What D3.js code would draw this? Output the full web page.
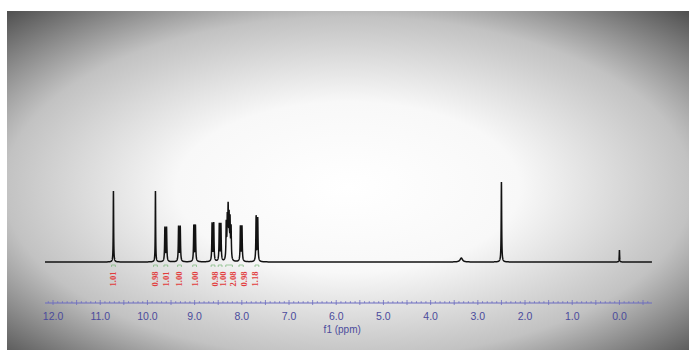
<!DOCTYPE html>
<html>
<head>
<meta charset="utf-8">
<script src="https://cdn.jsdelivr.net/npm/d3@7"></script>
<style>
  body { margin: 0; background: #fff; }
  svg { display: block; }
</style>
</head>
<body>
<svg id="chart" width="689" height="350"></svg>
<script>
// spectrum lines: chemical shift (ppm), height, half width (ppm)
const linePpm    = [10.720, 9.830, 9.630, 9.595, 9.340, 9.305, 9.017, 8.983, 8.630, 8.595, 8.477, 8.443,
                    8.330, 8.308, 8.290, 8.270, 8.250, 8.228, 8.030, 7.997, 7.697, 7.663, 3.350, 2.500, 0.000];
const lineHeight = [71, 71, 34, 34, 35, 35, 36, 36, 38, 38, 37, 37,
                    36, 38, 48, 40, 38, 32, 35, 35, 45, 43, 4, 80, 12];
const lineWidth  = [0.005, 0.005, 0.007, 0.007, 0.007, 0.007, 0.007, 0.007, 0.007, 0.007, 0.007, 0.007,
                    0.007, 0.007, 0.007, 0.007, 0.007, 0.007, 0.007, 0.007, 0.007, 0.007, 0.03, 0.006, 0.005];

// integrals: label anchor (ppm), region, value
const integralPpm  = [10.72, 9.83, 9.61, 9.34, 9.00, 8.57, 8.40, 8.19, 7.96, 7.72];
const integralFrom = [10.76, 9.87, 9.65, 9.36, 9.04, 8.65, 8.50, 8.34, 8.06, 7.72];
const integralTo   = [10.68, 9.79, 9.57, 9.28, 8.96, 8.57, 8.42, 8.20, 7.97, 7.64];
const integralText = ["1.01", "0.98", "1.01", "1.00", "1.00", "0.98", "1.00", "2.08", "0.98", "1.18"];

const axisTicks = [12, 11, 10, 9, 8, 7, 6, 5, 4, 3, 2, 1, 0];
const axisTitle = "f1 (ppm)";

const svg = d3.select("#chart");

// vignette background
const defs = svg.append("defs");
const grad = defs.append("radialGradient")
  .attr("id", "vignette")
  .attr("cx", 0.5).attr("cy", 0.52).attr("r", 0.72);
grad.append("stop").attr("offset", 0).attr("stop-color", "#ffffff");
grad.append("stop").attr("offset", 0.35).attr("stop-color", "#f8f8f8");
grad.append("stop").attr("offset", 0.7).attr("stop-color", "#c2c2c2");
grad.append("stop").attr("offset", 1).attr("stop-color", "#505050");

svg.append("rect")
  .attr("x", 7).attr("y", 11)
  .attr("width", 682).attr("height", 339)
  .attr("fill", "url(#vignette)");

const x = d3.scaleLinear().domain([12.17, -0.69]).range([45, 652]);
const y = d3.scaleLinear().domain([0, 100]).range([262, 162]);

// sum of lorentzian lines over the plotted range
const grid = d3.range(12.17, -0.69, -0.001);
const spectrum = grid.map(p => {
  let v = 0;
  for (let i = 0; i < linePpm.length; i++) {
    const d = (p - linePpm[i]) / lineWidth[i];
    v += lineHeight[i] / (1 + d * d);
  }
  return [p, v];
});

svg.append("path")
  .datum(spectrum)
  .attr("fill", "none")
  .attr("stroke", "#121212")
  .attr("stroke-width", 1.5)
  .attr("d", d3.line().x(d => x(d[0])).y(d => y(d[1])));

// integral brackets and labels
const integ = svg.append("g");
integralPpm.forEach((p, i) => {
  const x0 = x(integralFrom[i]), x1 = x(integralTo[i]);
  integ.append("path")
    .attr("d", `M${x0},267V265H${x1}V267`)
    .attr("fill", "none")
    .attr("stroke", "#79b879")
    .attr("stroke-width", 0.7);
  integ.append("text")
    .attr("transform", `translate(${x(p) + 3},${279}) rotate(-90)`)
    .attr("text-anchor", "middle")
    .attr("font-family", "Liberation Serif, serif")
    .attr("font-weight", "bold")
    .attr("font-size", 8.5)
    .attr("fill", "#e23c3c")
    .text(integralText[i]);
});

// axis
const axisY = 303;
const ax = svg.append("g");
ax.append("line")
  .attr("x1", x(12.17)).attr("x2", x(-0.69))
  .attr("y1", axisY).attr("y2", axisY)
  .attr("stroke", "#6b6bc0").attr("stroke-width", 1);

const minor = d3.range(12.1, -0.65, -0.1).map(v => Math.round(v * 10) / 10);
ax.selectAll(".minor")
  .data(minor)
  .enter()
  .append("line")
  .attr("class", "minor")
  .attr("x1", d => x(d)).attr("x2", d => x(d))
  .attr("y1", d => Math.abs(d * 2 - Math.round(d * 2)) < 1e-6 ? axisY - 3 : axisY - 1.8)
  .attr("y2", d => Math.abs(d * 2 - Math.round(d * 2)) < 1e-6 ? axisY + 2 : axisY)
  .attr("stroke", "#6b6bc0")
  .attr("stroke-width", 0.8);

ax.selectAll(".tick-label")
  .data(axisTicks)
  .enter()
  .append("text")
  .attr("class", "tick-label")
  .attr("x", d => x(d))
  .attr("y", 320)
  .attr("text-anchor", "middle")
  .attr("font-family", "Liberation Sans, Arial, sans-serif")
  .attr("font-size", 10.5)
  .attr("fill", "#4b4b9c")
  .text(d => d.toFixed(1));

ax.append("text")
  .attr("x", x(6) + 6)
  .attr("y", 333)
  .attr("text-anchor", "middle")
  .attr("font-family", "Liberation Sans, Arial, sans-serif")
  .attr("font-size", 10)
  .attr("fill", "#4b4b9c")
  .text(axisTitle);
</script>
</body>
</html>
